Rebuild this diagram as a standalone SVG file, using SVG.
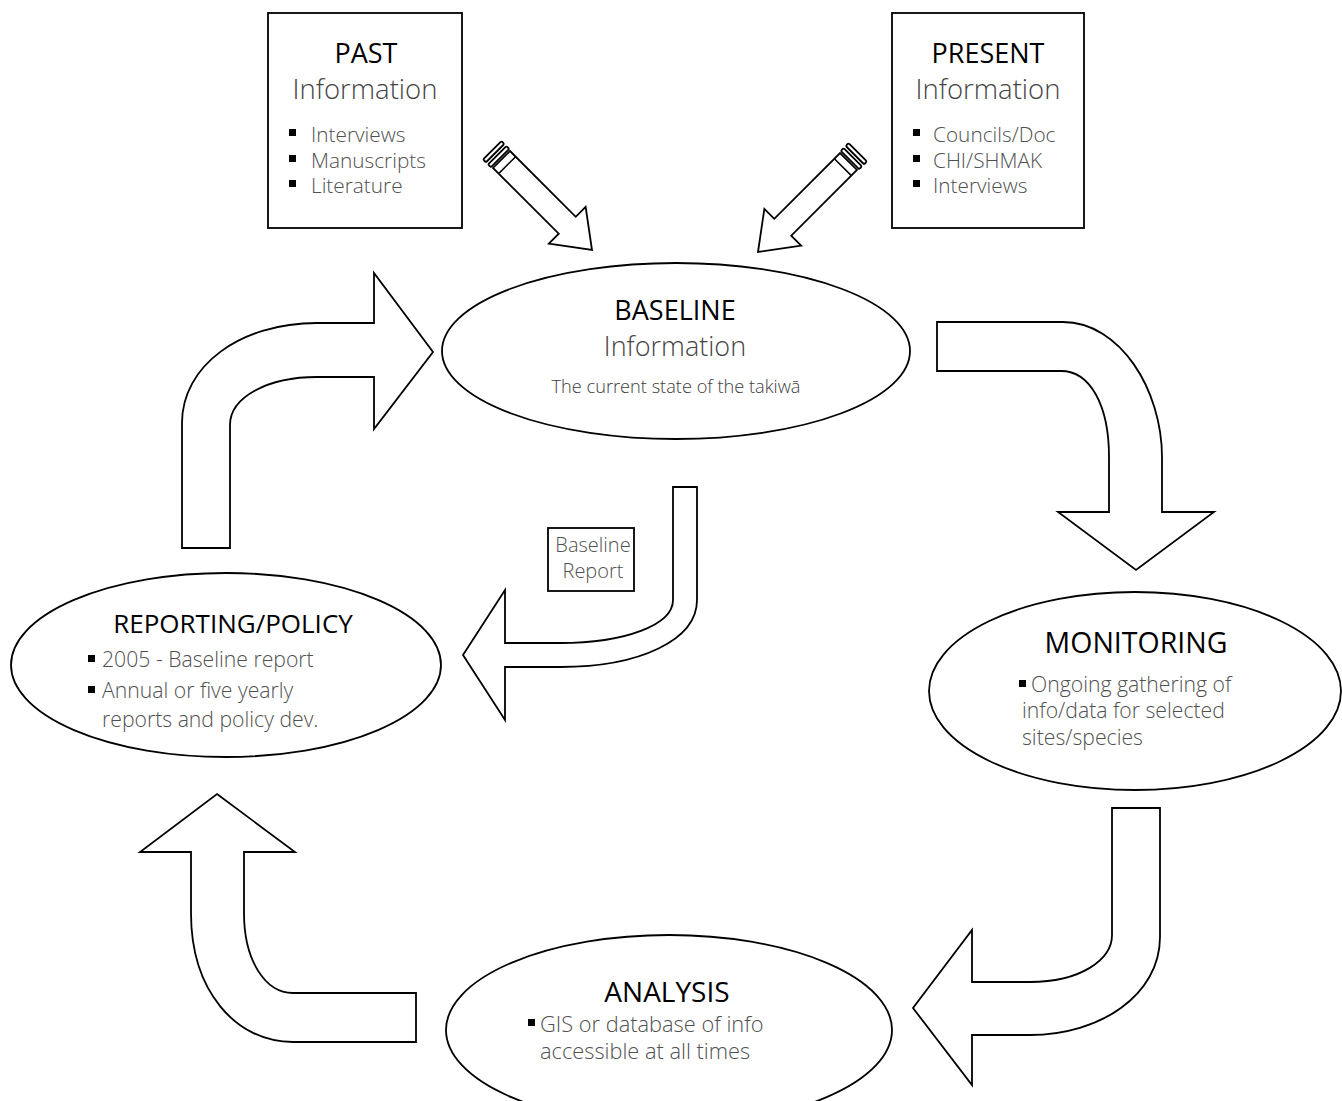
<svg xmlns="http://www.w3.org/2000/svg" width="1342" height="1101" viewBox="0 0 1342 1101">
<style>
.shape{fill:#fff;stroke:#000;stroke-width:1.8;stroke-linejoin:miter}
.title{font-family:"Open Sans","Liberation Sans",sans-serif;font-size:27px;fill:#000}
.sub{font-family:"Open Sans","Liberation Sans",sans-serif;font-size:27.5px;font-weight:300;fill:#444}
.item{font-family:"Open Sans","Liberation Sans",sans-serif;font-size:20.8px;font-weight:300;fill:#505050}
.big{font-family:"Open Sans","Liberation Sans",sans-serif;font-size:21.2px;font-weight:300;fill:#505050}
.small{font-family:"Open Sans","Liberation Sans",sans-serif;font-size:18.2px;font-weight:300;fill:#404040}
.bul{fill:#000}
</style>
<defs>
<g id="pencil">
<path class="shape" d="M-128,-12 L-35,-12 L-35,-26 L0,0 L-35,26 L-35,12 L-128,12 Z"/>
<line x1="-120" y1="-12" x2="-120" y2="12" stroke="#000" stroke-width="1.5"/>
<rect class="shape" x="-134" y="-13" width="4" height="26" rx="1.5" stroke-width="1.5"/>
<rect class="shape" x="-141" y="-13" width="4" height="26" rx="1.5" stroke-width="1.5"/>
</g>
</defs>
<rect width="1342" height="1101" fill="#fff"/>

<g id="connectors">
<use href="#pencil" transform="translate(592,250) rotate(45)"/>
<use href="#pencil" transform="translate(758,252) rotate(135)"/>
<path class="shape" d="M182,548 L182,423 C182,366 240,323 317,323 L374,323 L374,273 L433,352 L374,429 L374,377 L317,377 C268,377 230,397 230,425 L230,548 Z"/>
<path class="shape" d="M937,322 L1063,322 C1120,322 1162,390 1162,457 L1162,512 L1214,512 L1136,570 L1058,512 L1109,512 L1109,457 C1109,405 1090,371 1061,371 L937,371 Z"/>
<path class="shape" d="M1112,808 L1160,808 L1160,937 C1160,995 1100,1035 1030,1035 L972,1035 L972,1085 L913,1008 L972,930 L972,982 L1030,982 C1080,982 1112,960 1112,935 Z"/>
<path class="shape" d="M217,794 L295,852 L244,852 L244,913 C244,960 265,993 293,993 L416,993 L416,1042 L293,1042 C235,1042 191,990 191,913 L191,852 L140,852 Z"/>
<path class="shape" d="M673,487 L697,487 L697,600 C697,640 640,667 560,667 L505,667 L505,720 L463,655 L505,590 L505,643 L560,643 C625,643 673,625 673,600 Z"/>
</g>

<g id="past">
<rect class="shape" x="268" y="13" width="194" height="215" stroke-width="2"/>
<text class="title" x="366" y="63" text-anchor="middle">PAST</text>
<text class="sub" x="365" y="99" text-anchor="middle">Information</text>
<rect class="bul" x="289" y="129" width="7" height="7"/>
<rect class="bul" x="289" y="155" width="7" height="7"/>
<rect class="bul" x="289" y="180" width="7" height="7"/>
<text class="item" x="311" y="142">Interviews</text>
<text class="item" x="311" y="168">Manuscripts</text>
<text class="item" x="311" y="193">Literature</text>
</g>

<g id="present">
<rect class="shape" x="892" y="13" width="192" height="215" stroke-width="2"/>
<text class="title" x="988" y="63" text-anchor="middle">PRESENT</text>
<text class="sub" x="988" y="99" text-anchor="middle">Information</text>
<rect class="bul" x="913" y="129" width="7" height="7"/>
<rect class="bul" x="913" y="155" width="7" height="7"/>
<rect class="bul" x="913" y="180" width="7" height="7"/>
<text class="item" x="933" y="142">Councils/Doc</text>
<text class="item" x="933" y="168">CHI/SHMAK</text>
<text class="item" x="933" y="193">Interviews</text>
</g>

<g id="baseline">
<ellipse class="shape" cx="676" cy="351" rx="234" ry="88"/>
<text class="title" x="675" y="320" text-anchor="middle">BASELINE</text>
<text class="sub" x="675" y="356" text-anchor="middle" style="font-size:27px">Information</text>
<text class="small" x="676" y="393" text-anchor="middle">The current state of the takiwā</text>
</g>

<g id="baseline-report">
<rect class="shape" x="548" y="528" width="86" height="63" stroke-width="1.5"/>
<text class="item" x="593" y="552" text-anchor="middle" style="font-size:20px">Baseline</text>
<text class="item" x="593" y="578" text-anchor="middle" style="font-size:20px">Report</text>
</g>

<g id="monitoring">
<ellipse class="shape" cx="1135" cy="691" rx="206" ry="99"/>
<text class="title" x="1136" y="653" text-anchor="middle" style="font-size:28.5px">MONITORING</text>
<rect class="bul" x="1019" y="680" width="7" height="7"/>
<text class="big" x="1031" y="692">Ongoing gathering of</text>
<text class="big" x="1022" y="718">info/data for selected</text>
<text class="big" x="1022" y="745">sites/species</text>
</g>

<g id="analysis">
<ellipse class="shape" cx="669" cy="1030" rx="223" ry="95"/>
<text class="title" x="667" y="1002" text-anchor="middle" style="font-size:28px">ANALYSIS</text>
<rect class="bul" x="528" y="1019" width="7" height="7"/>
<text class="big" x="540" y="1032" style="font-size:21.8px">GIS or database of info</text>
<text class="big" x="540" y="1059" style="font-size:21.8px">accessible at all times</text>
</g>

<g id="reporting">
<ellipse class="shape" cx="226" cy="665" rx="215" ry="92"/>
<text class="title" x="233" y="633" text-anchor="middle" style="font-size:26px">REPORTING/POLICY</text>
<rect class="bul" x="88" y="655" width="7" height="7"/>
<rect class="bul" x="88" y="686" width="7" height="7"/>
<text class="big" x="102" y="667">2005 - Baseline report</text>
<text class="big" x="102" y="698">Annual or five yearly</text>
<text class="big" x="102" y="727">reports and policy dev.</text>
</g>
</svg>
